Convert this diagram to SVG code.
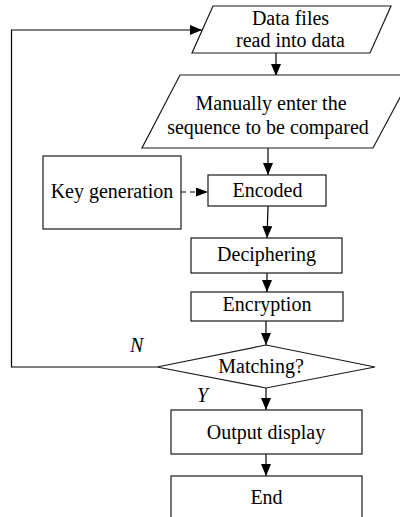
<svg xmlns="http://www.w3.org/2000/svg" width="400" height="517" viewBox="0 0 400 517">
<defs>
<style>
.s{fill:#fff;stroke:#1a1a1a;stroke-width:1.2}
.t{font-family:"Liberation Serif","Times New Roman",serif;font-size:20px;fill:#000;text-anchor:middle}
.l{fill:none;stroke:#000;stroke-width:1.2}
.i{font-family:"Liberation Serif","Times New Roman",serif;font-size:20px;font-style:italic;fill:#000}
</style>
<marker id="ah" markerWidth="12" markerHeight="10" refX="12" refY="5" orient="auto" markerUnits="userSpaceOnUse">
<path d="M0,0 L12,5 L0,10 Z" fill="#000"/>
</marker>
<marker id="ahs" markerWidth="12" markerHeight="9" refX="12" refY="4.5" orient="auto" markerUnits="userSpaceOnUse">
<path d="M0,0 L12,4.5 L0,9 Z" fill="#000"/>
</marker>
</defs>
<g id="connectors">
<path class="l" d="M276,53 V76" marker-end="url(#ah)"/>
<path class="l" d="M268,148 V175" marker-end="url(#ah)"/>
<path class="l" d="M181,192 H208" stroke-dasharray="5,4" marker-end="url(#ahs)"/>
<path class="l" d="M268,206 L267,238" marker-end="url(#ah)"/>
<path class="l" d="M267,273 V292" marker-end="url(#ah)"/>
<path class="l" d="M266,321 V345" marker-end="url(#ah)"/>
<path class="l" d="M157,367 H11.5 V30 H202" marker-end="url(#ah)"/>
<path class="l" d="M266,388 V410" marker-end="url(#ah)"/>
<path class="l" d="M266,454 V476" marker-end="url(#ah)"/>
</g>
<g id="n1">
<polygon class="s" points="213,6 391,6 370,53 192,53"/>
<text class="t" x="290.5" y="25">Data files</text>
<text class="t" x="290.5" y="47">read into data</text>
</g>
<g id="n2">
<polygon class="s" points="180,75 412,75 373,148 142,148"/>
<text class="t" x="271" y="110">Manually enter the</text>
<text class="t" x="268" y="134">sequence to be compared</text>
</g>
<g id="key">
<rect class="s" x="43" y="156" width="138" height="73"/>
<text class="t" x="112" y="198">Key generation</text>
</g>
<g id="encoded">
<rect class="s" x="208" y="175" width="118" height="31"/>
<text class="t" x="267.5" y="197">Encoded</text>
</g>
<g id="deciphering">
<rect class="s" x="191" y="238" width="151" height="35"/>
<text class="t" x="266.5" y="261">Deciphering</text>
</g>
<g id="encryption">
<rect class="s" x="191" y="292" width="152" height="29"/>
<text class="t" x="267" y="311">Encryption</text>
</g>
<g id="matching">
<polygon class="s" points="266,345 375,367 266,388 157,367"/>
<text class="t" x="261" y="373">Matching?</text>
</g>
<g id="labels">
<text class="i" x="130" y="352">N</text>
<text class="i" x="197" y="402">Y</text>
</g>
<g id="output">
<rect class="s" x="171" y="410" width="191" height="44"/>
<text class="t" x="266" y="439">Output display</text>
</g>
<g id="end">
<rect class="s" x="171" y="476" width="191" height="45"/>
<text class="t" x="266.5" y="504">End</text>
</g>
</svg>
